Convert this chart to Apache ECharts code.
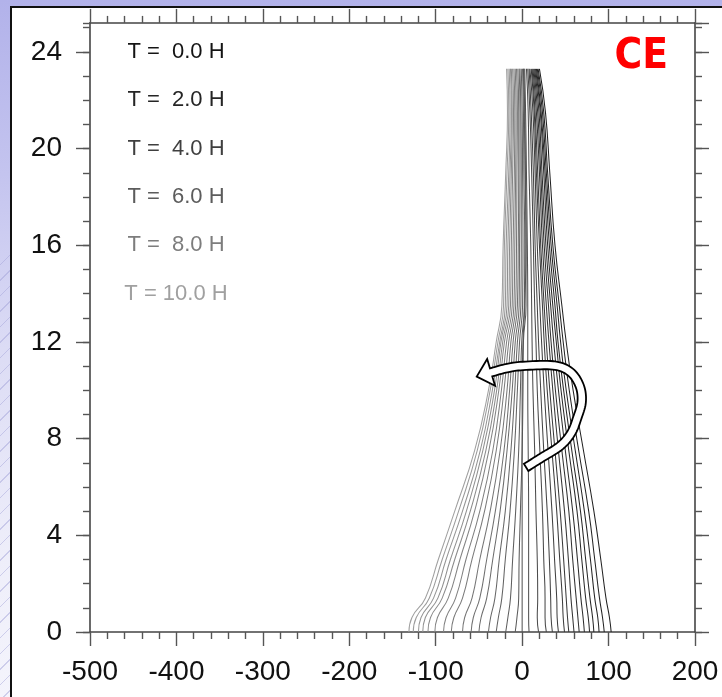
<!DOCTYPE html>
<html>
<head>
<meta charset="utf-8">
<script src="https://cdn.jsdelivr.net/npm/echarts@6/dist/echarts.min.js"></script>
<style>
  html, body { margin: 0; padding: 0; width: 722px; height: 697px; overflow: hidden; }
  body {
    position: relative;
    background: linear-gradient(180deg, #b2b2ea 0%, #c4c4ef 25%, #dcdcf5 50%, #eeeefa 80%, #f4f4fc 100%);
  }
  #stripes {
    position: absolute; left: 0; top: 250px; width: 10px; bottom: 0;
    background: repeating-linear-gradient(135deg, rgba(255,255,255,0) 0 10px, rgba(160,160,215,0.45) 10px 11px);
  }
  #sheet {
    position: absolute; left: 10px; top: 6px; right: 0; bottom: 0;
    background: #ffffff; border-left: 2px solid #111; border-top: 2px solid #111;
  }
  #chart { position: absolute; left: 0; top: 0; width: 722px; height: 697px; }
</style>
</head>
<body>
<div id="stripes"></div>
<div id="sheet"></div>
<div id="chart"></div>
<script>
// Heights (vertical axis units) at which every profile is sampled
const HEIGHTS = [0, 0.6, 1.4, 3, 5, 7.5, 10, 12, 13.5, 16, 19, 21.5, 23.3];

// Horizontal position of the profile at each height, one array every 20 minutes
const p000 = [103, 101, 97, 91, 83, 71, 59, 51, 46, 38, 32, 27, 20];
const p020 = [95, 93, 89.5, 84, 77, 65.5, 54.5, 47.5, 43, 35.5, 29.5, 25, 18.5];
const p040 = [89, 87.5, 84, 79, 72, 61.5, 51, 44.5, 40.5, 33.5, 28, 23.5, 17.5];
const p060 = [83, 81.5, 78.5, 73.5, 67.5, 57.5, 48, 41.5, 38, 31.5, 26.5, 22, 16.5];
const p080 = [78, 76.5, 73.5, 69, 63.5, 54, 45, 39.5, 35.5, 29.5, 25, 21, 15.5];
const p100 = [72, 70.5, 68, 64, 58.5, 50, 42, 36.5, 33, 27.5, 23, 19.5, 14.5];
const p120 = [66, 64.5, 62.5, 58.5, 54, 46, 38.5, 33.5, 30.5, 25.5, 21.5, 18, 13.5];
const p140 = [60, 58.5, 56.5, 53.5, 49, 42, 35.5, 31, 28, 23.5, 20, 16.5, 12.5];
const p160 = [54, 52.5, 51, 48, 44, 38, 32, 28, 25.5, 21.5, 18, 15, 11.5];
const p180 = [49, 47.5, 46.5, 43.5, 40, 34.5, 29, 25.5, 23.5, 20, 16.5, 14, 10.5];
const p200 = [42, 40.5, 40, 37.5, 34.5, 30, 25.5, 22.5, 20.5, 17.5, 15, 12.5, 9];
const p220 = [35, 33.5, 33, 31.5, 29, 25, 21.5, 19, 17.5, 15, 13, 10.5, 8];
const p240 = [28, 26.5, 26.5, 25, 23.5, 20.5, 17.5, 16, 14.5, 13, 11, 9, 6.5];
const p260 = [19, 17.5, 18, 17.5, 16, 14.5, 12.5, 11.5, 11, 10, 8, 7, 5];
const p280 = [8, 7.5, 7.5, 7.5, 7.5, 7, 6.5, 6.5, 6.5, 6, 5, 4, 3];
const p300 = [0, 0, 0, 0, 0, 0, 0, 1, 3, 4.5, 3.8, 3, 2];
const p320 = [-8, -6, -4, -3.5, -2, 0, 1, 1.5, 4.5, 4.5, 3.5, 2.5, 1.5];
const p340 = [-19, -16.5, -13.5, -11, -7.5, -4, -2, -0.5, 2.5, 3, 2, 1.5, 0.5];
const p360 = [-30, -27.5, -23.5, -19.5, -14, -9, -5.5, -3, 0.5, 1, 0.5, 0, -1];
const p380 = [-39, -36.5, -31.5, -26.5, -19.5, -13, -8.5, -5.5, -1.5, -1, -1, -1.5, -2.5];
const p400 = [-50, -47.5, -41, -34, -25.5, -17.5, -11.5, -8, -3.5, -3, -2.5, -2.5, -3.5];
const p420 = [-59, -56.5, -49, -41, -31, -21, -14.5, -10.5, -5.5, -4.5, -4, -4, -5];
const p440 = [-69, -66.5, -58, -49, -37, -25.5, -17.5, -13, -7.5, -6.5, -6, -5.5, -6.5];
const p460 = [-82, -79, -69, -58, -43.5, -30, -21, -15.5, -9.5, -8.5, -7.5, -7, -8];
const p480 = [-91, -88, -77, -65, -49, -34, -24, -18, -11.5, -10.5, -9, -8.5, -9.5];
const p500 = [-101, -98, -85.5, -72, -55, -38.5, -27, -20.5, -13.5, -12.5, -11, -10, -11];
const p520 = [-109, -106, -92.5, -78, -60, -42, -29.5, -22.5, -15.5, -14.5, -12.5, -11.5, -12.5];
const p540 = [-115, -112, -97.5, -83, -64.5, -45.5, -32, -24.5, -17.5, -16.5, -14, -12.5, -13.5];
const p560 = [-120, -117, -102.5, -88, -69, -48.5, -34.5, -26, -19.5, -18.5, -15.5, -14, -15];
const p580 = [-126, -122.5, -107.5, -92.5, -73.5, -52, -37, -28, -21.5, -20.5, -17.5, -15.5, -16.5];
const p600 = [-131, -127.5, -112, -97, -78, -55, -39, -30, -23.5, -22, -19, -17, -18];

const PROFILES = [p000, p020, p040, p060, p080, p100, p120, p140, p160, p180, p200,
                  p220, p240, p260, p280, p300, p320, p340, p360, p380, p400,
                  p420, p440, p460, p480, p500, p520, p540, p560, p580, p600];
const STEP_MINUTES = 20;

// Times listed in the key (hours)
const KEY_HOURS = [0, 2, 4, 6, 8, 10];
const CASE_LABEL = 'CE';

// Axis ranges
const X_MIN = -500, X_MAX = 200, X_STEP = 100;
const Y_MIN = 0, Y_MAX = 25.2, Y_STEP = 4;

// Curved rotation arrow, centre line in axis units (tail first, head last)
const ARROW_PATH = [[4.6, 6.81], [22.8, 7.22], [44, 7.7], [56.7, 8.23], [63.7, 8.85],
                    [68.9, 9.52], [66.6, 10.18], [55.6, 10.76], [35.9, 11.03],
                    [-2.3, 11.0], [-19.7, 10.9], [-35.9, 10.74]];

// grey level lightening with time: early = near black, late = light grey
function shade(minutes, base) {
  const f = Math.pow(minutes / 600, 1.3);
  const g = Math.round(base + (160 - base) * f);
  return 'rgb(' + g + ',' + g + ',' + g + ')';
}

function catmull(p, seg) {
  const out = [];
  for (let i = 0; i < p.length - 1; i++) {
    const p0 = p[Math.max(0, i - 1)], p1 = p[i], p2 = p[i + 1], p3 = p[Math.min(p.length - 1, i + 2)];
    for (let s = 0; s < seg; s++) {
      const t = s / seg, t2 = t * t, t3 = t2 * t;
      out.push([0, 1].map(k => 0.5 * (2 * p1[k] + (-p0[k] + p2[k]) * t +
        (2 * p0[k] - 5 * p1[k] + 4 * p2[k] - p3[k]) * t2 +
        (-p0[k] + 3 * p1[k] - 3 * p2[k] + p3[k]) * t3)));
    }
  }
  out.push(p[p.length - 1].slice());
  return out;
}

function renderArrow(params, api) {
  const pts = ARROW_PATH.map(p => api.coord(p));
  const dense = catmull(pts, 10);
  const half = 4.2;
  const left = [], right = [];
  for (let i = 0; i < dense.length; i++) {
    const a = dense[Math.max(0, i - 1)], b = dense[Math.min(dense.length - 1, i + 1)];
    let dx = b[0] - a[0], dy = b[1] - a[1];
    const L = Math.hypot(dx, dy) || 1; dx /= L; dy /= L;
    left.push([dense[i][0] - dy * half, dense[i][1] + dx * half]);
    right.push([dense[i][0] + dy * half, dense[i][1] - dx * half]);
  }
  const n = dense.length;
  const end = dense[n - 1], prev = dense[n - 5];
  let dx = end[0] - prev[0], dy = end[1] - prev[1];
  const L = Math.hypot(dx, dy) || 1; dx /= L; dy /= L;
  const headHalf = 14, headLen = 15;
  const tip = [end[0] + dx * headLen, end[1] + dy * headLen];
  const bl = [end[0] - dy * headHalf, end[1] + dx * headHalf];
  const br = [end[0] + dy * headHalf, end[1] - dx * headHalf];
  const outline = left.concat([bl, tip, br], right.slice().reverse());
  return {
    type: 'polygon',
    shape: { points: outline },
    style: { fill: '#ffffff', stroke: '#000000', lineWidth: 1.8, lineJoin: 'miter' }
  };
}

const FONT = '"Liberation Sans", Arial, Helvetica, sans-serif';
const frameLine = { color: '#444444', width: 1.6 };
const tickLine = { color: '#555555', width: 1.4 };

function axisCommon(extra) {
  return Object.assign({
    type: 'value',
    splitLine: { show: false },
    minorSplitLine: { show: false },
    axisLine: { show: true, onZero: false, lineStyle: frameLine },
    axisTick: { show: true, length: 14, lineStyle: tickLine },
    minorTick: { show: true, length: 7, lineStyle: tickLine }
  }, extra);
}

const profileSeries = PROFILES.map((xs, idx) => ({
  type: 'line',
  name: 't' + idx * STEP_MINUTES,
  xAxisIndex: 0, yAxisIndex: 0,
  data: HEIGHTS.map((h, i) => [xs[i], h]),
  showSymbol: false,
  symbol: 'none',
  smooth: 0.5,
  lineStyle: { color: shade(idx * STEP_MINUTES, 34), width: 1.05 },
  silent: true,
  animation: false
})).reverse();

const arrowSeries = {
  type: 'custom',
  xAxisIndex: 0, yAxisIndex: 0,
  data: [[0, 0]],
  renderItem: renderArrow,
  z: 5,
  silent: true,
  animation: false
};

const chart = echarts.init(document.getElementById('chart'), null, { renderer: 'canvas' });

const option = {
  animation: false,
  backgroundColor: 'transparent',
  grid: { left: 90, right: 27, top: 632 - (Y_MAX - Y_MIN) * 24.17, bottom: 65, containLabel: false },
  xAxis: [
    axisCommon({
      position: 'bottom', min: X_MIN, max: X_MAX, interval: X_STEP,
      minorTick: { show: true, splitNumber: 5, length: 7, lineStyle: tickLine },
      axisLabel: { show: true, fontSize: 28, color: '#111', margin: 26, fontFamily: FONT }
    }),
    axisCommon({
      position: 'top', min: X_MIN, max: X_MAX, interval: X_STEP,
      minorTick: { show: true, splitNumber: 5, length: 7, lineStyle: tickLine },
      axisLabel: { show: false }
    })
  ],
  yAxis: [
    axisCommon({
      position: 'left', min: Y_MIN, max: Y_MAX, interval: Y_STEP,
      minorTick: { show: false },
      axisLabel: { show: true, fontSize: 28, color: '#111', margin: 28, fontFamily: FONT, showMaxLabel: false }
    }),
    axisCommon({
      position: 'right', min: Y_MIN, max: Y_MAX, interval: Y_STEP,
      minorTick: { show: false },
      axisLabel: { show: false }
    }),
    // unit-spaced minor marks on both vertical sides
    axisCommon({
      position: 'left', min: Y_MIN, max: Y_MAX, interval: 1,
      axisLine: { show: false, onZero: false }, axisTick: { show: true, length: 7, lineStyle: tickLine },
      minorTick: { show: false }, axisLabel: { show: false }
    }),
    axisCommon({
      position: 'right', min: Y_MIN, max: Y_MAX, interval: 1,
      axisLine: { show: false, onZero: false }, axisTick: { show: true, length: 7, lineStyle: tickLine },
      minorTick: { show: false }, axisLabel: { show: false }
    })
  ],
  series: profileSeries.concat([arrowSeries])
};
chart.setOption(option);

// key of times (grey matching each profile) and the case label
const keyElements = KEY_HOURS.map((h, i) => {
  const yPix = chart.convertToPixel({ yAxisIndex: 0 }, 24 - 2 * i);
  const txt = 'T = ' + (h < 10 ? ' ' : '') + h.toFixed(1) + ' H';
  return {
    type: 'text',
    x: 176, y: yPix,
    style: {
      text: txt, fill: shade(h * 60, 20), font: '22px ' + FONT,
      align: 'center', verticalAlign: 'middle'
    },
    z: 10
  };
});
keyElements.push({
  type: 'text',
  x: 668, y: chart.convertToPixel({ yAxisIndex: 0 }, 23.8),
  style: {
    text: CASE_LABEL, fill: '#ff0000',
    font: 'bold 42px "Liberation Sans Narrow", "DejaVu Sans Condensed", "Open Sans", sans-serif',
    align: 'right', verticalAlign: 'middle'
  },
  z: 10
});
chart.setOption({ graphic: { elements: keyElements } });
</script>
</body>
</html>
